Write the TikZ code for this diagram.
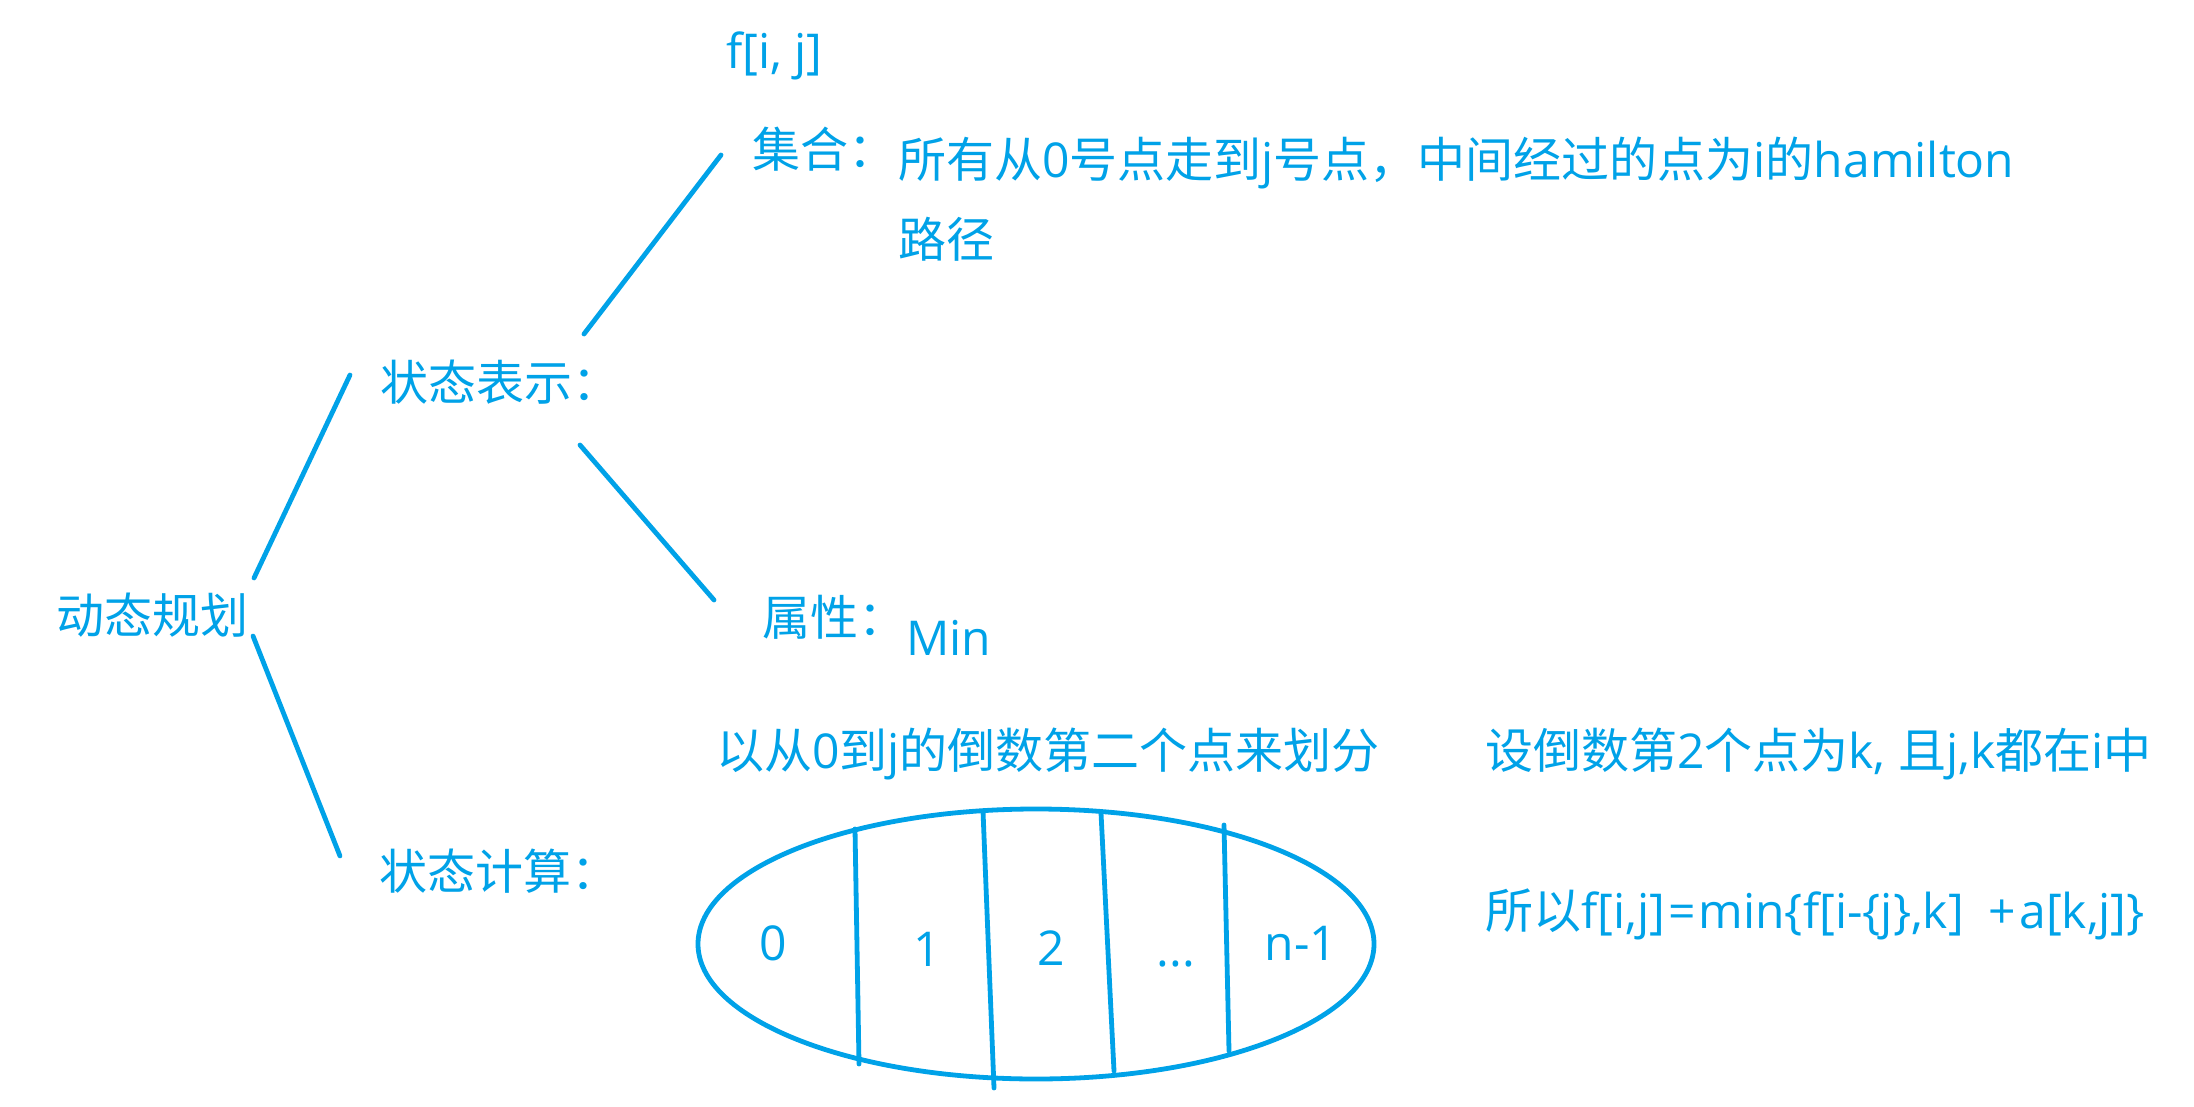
\documentclass[tikz,border=0pt]{standalone}
\usepackage{fontspec}
\usetikzlibrary{shapes.geometric}
\setmainfont{Open Sans}
\newfontfamily\cjkfont{Noto Sans CJK SC}
\newcommand\zh[1]{{\cjkfont #1}}
\definecolor{ink}{RGB}{0,162,232}
\begin{document}
\begin{tikzpicture}[x=1pt,y=-1pt,
  txt/.style={anchor=base west, inner sep=0pt, text=ink, font=\fontsize{48}{58}\selectfont},
  num/.style={anchor=base, inner sep=0pt, text=ink, font=\fontsize{48}{58}\selectfont},
  ln/.style={draw=ink, line width=4.8pt, line cap=round}]
\useasboundingbox[fill=white] (0,0) rectangle (2194,1107);

% texts
\node[txt] (fij) at (726,69) {f[i, j]};
\node[txt] (jihe) at (752,168) {\zh{集合：}};
\node[txt] (jihetxt) at (898,178) {\zh{所有从}0\zh{号点走到}j\zh{号点，中间经过的点为}i\zh{的}hamilton};
\node[txt] (lujing) at (898,258) {\zh{路径}};
\node[txt] (ztbs) at (380,400) {\zh{状态表示：}};
\node[txt] (dtgh) at (56,633) {\zh{动态规划}};
\node[txt] (shuxing) at (762,635) {\zh{属性：}};
\node[txt] (min) at (906,655) {Min};
\node[txt] (huafen) at (716,768) {\zh{以从}0\zh{到}j\zh{的倒数第二个点来划分}};
\node[txt] (shedao) at (1485,768) {\zh{设倒数第}2\zh{个点为}k, \zh{且}j,k\zh{都在}i\zh{中}};
\node[txt] (ztjs) at (379,889) {\zh{状态计算：}};
\node[txt] (suoyi) at (1485,928) {\zh{所以}f[i,j]\hspace{3pt}=\hspace{3pt}min\{f[i-\{j\},k]\ \ +\hspace{3pt}a[k,j]\}};

% tree connectors (free ends as coordinates)
\coordinate (a1) at (254,578); \coordinate (a2) at (350,375);
\coordinate (b1) at (253,636); \coordinate (b2) at (340,856);
\coordinate (c1) at (584,334); \coordinate (c2) at (721,155);
\coordinate (d1) at (580,445); \coordinate (d2) at (714,600);
\draw[ln] (a1) -- (a2);
\draw[ln] (b1) -- (b2);
\draw[ln] (c1) -- (c2);
\draw[ln] (d1) -- (d2);

% ellipse partition
\node[ln, ellipse, draw, minimum width=676pt, minimum height=270pt, inner sep=0pt] (set) at (1036,944) {};
\coordinate (v1t) at (855,829); \coordinate (v1b) at (859,1064);
\coordinate (v2t) at (983,811); \coordinate (v2b) at (994,1088);
\coordinate (v3t) at (1101,813); \coordinate (v3b) at (1114,1071);
\coordinate (v4t) at (1224,825); \coordinate (v4b) at (1229,1051);
\draw[ln] (v1t) -- (v1b);
\draw[ln] (v2t) -- (v2b);
\draw[ln] (v3t) -- (v3b);
\draw[ln] (v4t) -- (v4b);

\node[num] (p0) at (773,960) {0};
\node[num] (p1) at (927,966) {1};
\node[num] (p2) at (1051,965) {2};
\node[num] (pd) at (1176,966) {...};
\node[num] (pn) at (1301,960) {n-1};
\end{tikzpicture}
\end{document}
